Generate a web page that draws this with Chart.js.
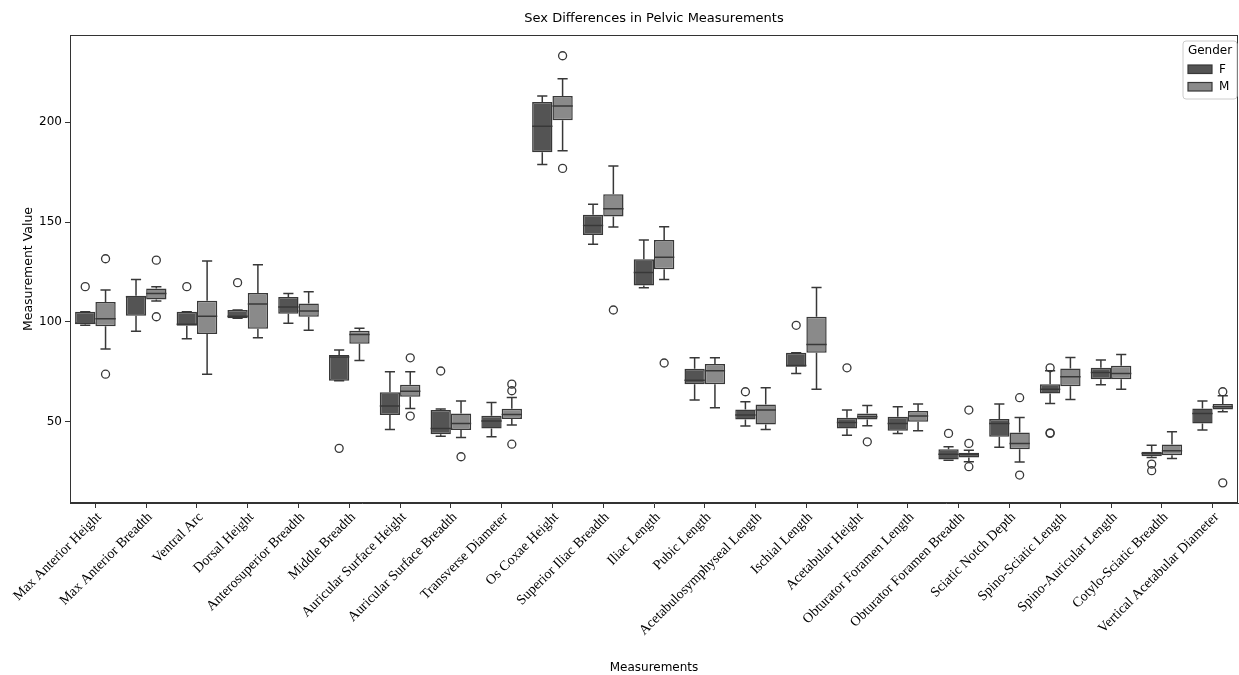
<!DOCTYPE html>
<html>
<head>
<meta charset="utf-8">
<script src="https://cdn.jsdelivr.net/npm/chart.js@4.4.1/dist/chart.umd.min.js"></script>
<style>
  html, body { margin: 0; padding: 0; background: #fff; }
  #wrap { width: 1239px; height: 675px; }
</style>
</head>
<body>
<div id="wrap"><canvas id="chart"></canvas></div>
<script>
const categories = [
  'Max Anterior Height', 'Max Anterior Breadth', 'Ventral Arc', 'Dorsal Height',
  'Anterosuperior Breadth', 'Middle Breadth', 'Auricular Surface Height',
  'Auricular Surface Breadth', 'Transverse Diameter', 'Os Coxae Height',
  'Superior Iliac Breadth', 'Iliac Length', 'Pubic Length',
  'Acetabulosymphyseal Length', 'Ischial Length', 'Acetabular Height',
  'Obturator Foramen Length', 'Obturator Foramen Breadth', 'Sciatic Notch Depth',
  'Spino-Sciatic Length', 'Spino-Auricular Length', 'Cotylo-Sciatic Breadth',
  'Vertical Acetabular Diameter'
];

// Female (F)
const fLow = [98.2, 95.2, 91.5, 101.8, 99.2, 70.4, 46.0, 42.6, 42.3, 178.9, 138.8, 117.1, 60.7, 47.7, 74.1, 43.1, 44.0, 30.6, 37.0, 59.0, 68.4, 31.9, 45.7];
const fQ1 = [98.8, 103.0, 98.0, 101.8, 104.0, 70.4, 53.2, 43.6, 46.5, 185.0, 143.5, 118.2, 68.7, 51.0, 77.4, 46.5, 45.3, 30.9, 42.3, 64.0, 71.2, 32.6, 49.0];
const fMed = [99.2, 112.5, 98.8, 102.8, 107.4, 82.3, 57.7, 46.5, 50.2, 198.0, 148.3, 124.7, 70.7, 53.2, 78.0, 49.5, 49.0, 33.6, 49.0, 66.1, 74.6, 33.9, 54.0];
const fQ3 = [105.0, 113.0, 105.0, 105.9, 112.4, 83.3, 64.7, 55.7, 52.8, 210.2, 153.7, 131.4, 76.4, 56.0, 84.5, 51.8, 52.3, 36.0, 51.2, 68.7, 76.9, 34.8, 56.5];
const fHigh = [105.0, 121.2, 105.0, 105.9, 114.2, 85.8, 74.9, 56.2, 59.5, 213.2, 158.9, 141.0, 81.9, 59.9, 84.5, 55.7, 57.4, 37.3, 58.7, 75.4, 80.8, 38.1, 60.2];
const fOutliers = [[117.6], [], [117.6], [119.6], [], [36.5], [], [75.3], [], [], [], [], [], [64.9], [98.2], [76.9], [], [44.0], [], [76.9, 44.0, 44.3], [], [28.6, 25.3], []];

// Male (M)
const mLow = [86.3, 110.4, 73.7, 92.0, 95.7, 80.6, 56.5, 42.0, 48.2, 185.8, 147.5, 121.2, 56.9, 46.0, 66.2, 47.8, 45.3, 29.8, 29.6, 61.0, 66.1, 31.4, 54.8];
const mQ1 = [97.7, 111.2, 93.8, 96.5, 102.5, 89.0, 62.4, 45.7, 51.2, 201.0, 152.8, 126.3, 68.6, 48.5, 84.4, 51.0, 49.8, 31.9, 36.0, 67.7, 71.1, 33.1, 56.0];
const mMed = [101.5, 114.2, 102.8, 108.9, 105.4, 93.6, 65.2, 49.0, 53.5, 208.2, 156.7, 132.4, 75.4, 55.7, 88.6, 52.3, 52.7, 33.3, 39.0, 72.4, 74.1, 35.3, 57.4];
const mQ3 = [109.9, 116.7, 110.5, 114.4, 109.2, 95.5, 68.4, 54.0, 56.4, 213.2, 163.9, 141.0, 78.8, 58.5, 102.5, 54.0, 55.2, 34.3, 44.5, 76.6, 77.9, 38.5, 58.7];
const mHigh = [115.9, 117.6, 130.4, 128.6, 115.1, 96.7, 74.9, 60.2, 62.0, 221.9, 178.1, 147.7, 81.9, 66.9, 117.2, 58.0, 58.7, 35.6, 52.0, 82.1, 83.6, 44.8, 62.9];
const mOutliers = [[131.6, 73.7], [130.9, 102.5], [], [], [], [], [81.9, 52.7], [32.3], [68.7, 65.4, 38.6], [233.4, 176.9], [105.9], [79.3], [], [], [], [39.8], [], [55.7, 39.0, 27.3], [61.9, 23.1], [], [], [], [64.9, 19.2]];

const yTicks = [50, 100, 150, 200];
const chartTitle = 'Sex Differences in Pelvic Measurements';

const series = [
  { label: 'F', color: '#545454', low: fLow, q1: fQ1, med: fMed, q3: fQ3, high: fHigh, out: fOutliers },
  { label: 'M', color: '#8a8a8a', low: mLow, q1: mQ1, med: mMed, q3: mQ3, high: mHigh, out: mOutliers }
];
const edge = '#383838';

// whiskers, medians and outliers drawn on top of the floating bars
const boxExtras = {
  id: 'boxExtras',
  afterDatasetsDraw(chart) {
    const ctx = chart.ctx;
    const y = chart.scales.y;
    ctx.save();
    ctx.strokeStyle = edge;
    series.forEach((s, d) => {
      chart.getDatasetMeta(d).data.forEach((bar, i) => {
        const x = bar.x, w = bar.width, cap = w / 4;
        ctx.lineWidth = 1.5;
        ctx.beginPath();
        ctx.moveTo(x, y.getPixelForValue(s.q3[i]));
        ctx.lineTo(x, y.getPixelForValue(s.high[i]));
        ctx.moveTo(x - cap, y.getPixelForValue(s.high[i]));
        ctx.lineTo(x + cap, y.getPixelForValue(s.high[i]));
        ctx.moveTo(x, y.getPixelForValue(s.q1[i]));
        ctx.lineTo(x, y.getPixelForValue(s.low[i]));
        ctx.moveTo(x - cap, y.getPixelForValue(s.low[i]));
        ctx.lineTo(x + cap, y.getPixelForValue(s.low[i]));
        ctx.moveTo(x - w / 2, y.getPixelForValue(s.med[i]));
        ctx.lineTo(x + w / 2, y.getPixelForValue(s.med[i]));
        ctx.stroke();
        ctx.lineWidth = 1.3;
        s.out[i].forEach(v => {
          ctx.beginPath();
          ctx.arc(x, y.getPixelForValue(v), 4, 0, Math.PI * 2);
          ctx.stroke();
        });
      });
    });
    ctx.restore();
  },
  afterDraw(chart) {
    const ctx = chart.ctx;
    const a = chart.chartArea;
    ctx.save();
    // frame like matplotlib spines
    ctx.strokeStyle = '#333';
    ctx.lineWidth = 1;
    ctx.strokeRect(a.left + 0.5, a.top + 0.5, a.right - a.left - 1, a.bottom - a.top - 1);
    // title centred over the plot area
    ctx.fillStyle = '#000';
    ctx.font = '13px "DejaVu Sans"';
    ctx.textAlign = 'center';
    ctx.textBaseline = 'middle';
    ctx.fillText(chartTitle, (a.left + a.right) / 2, 19);
    // legend
    const lx = a.right - 55, ly = a.top + 6, lw = 54, lh = 58;
    ctx.fillStyle = 'rgba(255,255,255,0.85)';
    ctx.strokeStyle = '#cccccc';
    ctx.beginPath();
    ctx.roundRect(lx, ly, lw, lh, 3);
    ctx.fill();
    ctx.stroke();
    ctx.fillStyle = '#000';
    ctx.font = '12px "DejaVu Sans"';
    ctx.fillText('Gender', lx + lw / 2, ly + 10);
    series.forEach((s, k) => {
      const py = ly + 24 + k * 17.5;
      ctx.fillStyle = s.color;
      ctx.strokeStyle = edge;
      ctx.lineWidth = 1.2;
      ctx.fillRect(lx + 5, py, 24, 8.5);
      ctx.strokeRect(lx + 5, py, 24, 8.5);
      ctx.fillStyle = '#000';
      ctx.textAlign = 'left';
      ctx.fillText(s.label, lx + 36, py + 4.5);
    });
    ctx.restore();
  }
};

new Chart(document.getElementById('chart'), {
  type: 'bar',
  data: {
    labels: categories,
    datasets: series.map(s => ({
      label: s.label,
      data: s.q1.map((v, i) => [v, s.q3[i]]),
      backgroundColor: s.color,
      borderColor: edge,
      borderWidth: 1.5,
      borderSkipped: false,
      categoryPercentage: 0.8,
      barPercentage: 1.0
    }))
  },
  options: {
    responsive: true,
    maintainAspectRatio: false,
    animation: false,
    devicePixelRatio: 1,
    layout: { padding: { left: 0, right: 1, top: 35, bottom: 0 } },
    plugins: {
      legend: { display: false },
      tooltip: { enabled: false },
      title: { display: false }
    },
    scales: {
      x: {
        afterFit(scale) { scale.height = 172; },
        grid: { drawOnChartArea: false, drawTicks: true, tickLength: 5, offset: false, color: '#333' },
        border: { display: true, color: '#333' },
        ticks: {
          color: '#000',
          minRotation: 45,
          maxRotation: 45,
          autoSkip: false,
          padding: 1,
          labelOffset: 4,
          font: { family: 'Liberation Serif', size: 14 }
        },
        title: {
          display: true,
          text: 'Measurements',
          color: '#000',
          font: { family: 'DejaVu Sans', size: 12 },
          padding: { top: 0, bottom: 0 }
        }
      },
      y: {
        min: 9.1,
        max: 243.8,
        afterFit(scale) { scale.width = 70; },
        afterBuildTicks(scale) { scale.ticks = yTicks.map(v => ({ value: v })); },
        grid: { drawOnChartArea: false, drawTicks: true, tickLength: 5, color: '#333' },
        border: { display: true, color: '#333' },
        ticks: {
          color: '#000',
          padding: 3,
          font: { family: 'DejaVu Sans', size: 12 }
        },
        title: {
          display: true,
          text: 'Measurement Value',
          color: '#000',
          font: { family: 'DejaVu Sans', size: 12.5 },
          padding: { top: 21, bottom: 0 }
        }
      }
    }
  },
  plugins: [boxExtras]
});
</script>
</body>
</html>
